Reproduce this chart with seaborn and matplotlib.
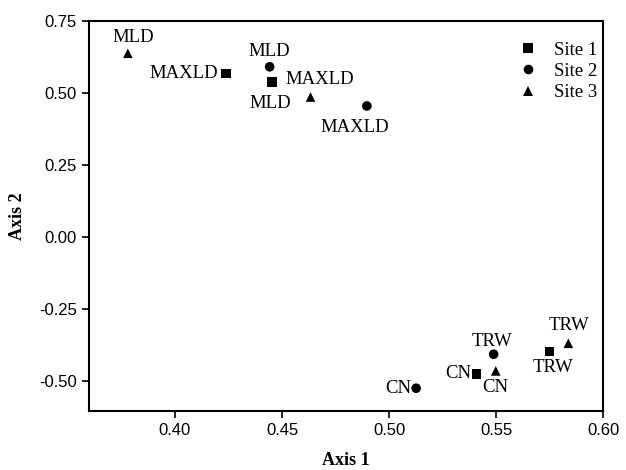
import matplotlib
matplotlib.use("Agg")
import matplotlib.pyplot as plt
import seaborn as sns
import pandas as pd

# Data
sites = ["Site 1", "Site 1", "Site 1", "Site 1",
         "Site 2", "Site 2", "Site 2", "Site 2",
         "Site 3", "Site 3", "Site 3", "Site 3"]
labels = ["MAXLD", "MLD", "CN", "TRW",
          "MLD", "MAXLD", "CN", "TRW",
          "MLD", "MAXLD", "CN", "TRW"]
axis1 = [0.4237, 0.4454, 0.5408, 0.5749,
         0.4442, 0.4896, 0.5126, 0.5488,
         0.3780, 0.4633, 0.5498, 0.5837]
axis2 = [0.568, 0.538, -0.475, -0.398,
         0.591, 0.455, -0.525, -0.407,
         0.638, 0.486, -0.465, -0.369]

# label offsets in pixels (dx right, dy down) and alignment
offsets_px = [(-8, 0, "right"), (-2, 21, "center"), (-5, 0, "right"), (3, 16, "center"),
              (0, -15, "center"), (-12, 22, "center"), (-5, 0, "right"), (-2, -13, "center"),
              (5, -16, "center"), (9, -18, "center"), (0, 17, "center"), (1, -18, "center")]

df = pd.DataFrame({"Axis 1": axis1, "Axis 2": axis2, "Site": sites, "Label": labels})

sns.set_style("ticks")
plt.rcParams["font.family"] = ["Liberation Sans", "DejaVu Sans"]
plt.rcParams["text.color"] = "black"
plt.rcParams["axes.labelcolor"] = "black"

fig = plt.figure(figsize=(6.26, 4.70), dpi=100)
ax = fig.add_axes([0.1427, 0.1262, 0.9637 - 0.1427, 0.9553 - 0.1262])

sns.scatterplot(data=df, x="Axis 1", y="Axis 2", style="Site",
                markers={"Site 1": "s", "Site 2": "o", "Site 3": "^"},
                style_order=["Site 1", "Site 2", "Site 3"],
                color="black", s=48, linewidth=0, ax=ax, legend=True)

serif = ["Liberation Serif", "DejaVu Serif"]
for x, y, lab, (dx, dy, ha) in zip(axis1, axis2, labels, offsets_px):
    ax.annotate(lab, (x, y), xytext=(dx * 0.72, -dy * 0.72), textcoords="offset points",
                ha=ha, va="center", fontsize=13.5, family=serif, color="black")

ax.set_xlim(0.36, 0.60)
ax.set_ylim(-0.603, 0.75)
ax.set_xticks([0.40, 0.45, 0.50, 0.55, 0.60])
ax.set_yticks([-0.50, -0.25, 0.00, 0.25, 0.50, 0.75])
ax.xaxis.set_major_formatter(matplotlib.ticker.FormatStrFormatter("%.2f"))
ax.yaxis.set_major_formatter(matplotlib.ticker.FormatStrFormatter("%.2f"))
ax.tick_params(axis="both", direction="out", length=5, width=1.2, labelsize=12,
               colors="black", pad=4)
for sp in ax.spines.values():
    sp.set_visible(True)
    sp.set_linewidth(1.5)
    sp.set_color("black")

ax.set_xlabel("Axis 1", family=serif, fontweight="bold", fontsize=13, labelpad=10,
              color="black")
ax.set_ylabel("Axis 2", family=serif, fontweight="bold", fontsize=13, labelpad=9,
              color="black")

leg = ax.legend(loc="upper right", frameon=False, prop={"family": serif, "size": 13.5},
                handletextpad=0.4, labelspacing=0.22, borderaxespad=0.2,
                bbox_to_anchor=(1.01, 0.976))
for t in leg.get_texts():
    t.set_color("black")

fig.savefig("out.png", dpi=100)
